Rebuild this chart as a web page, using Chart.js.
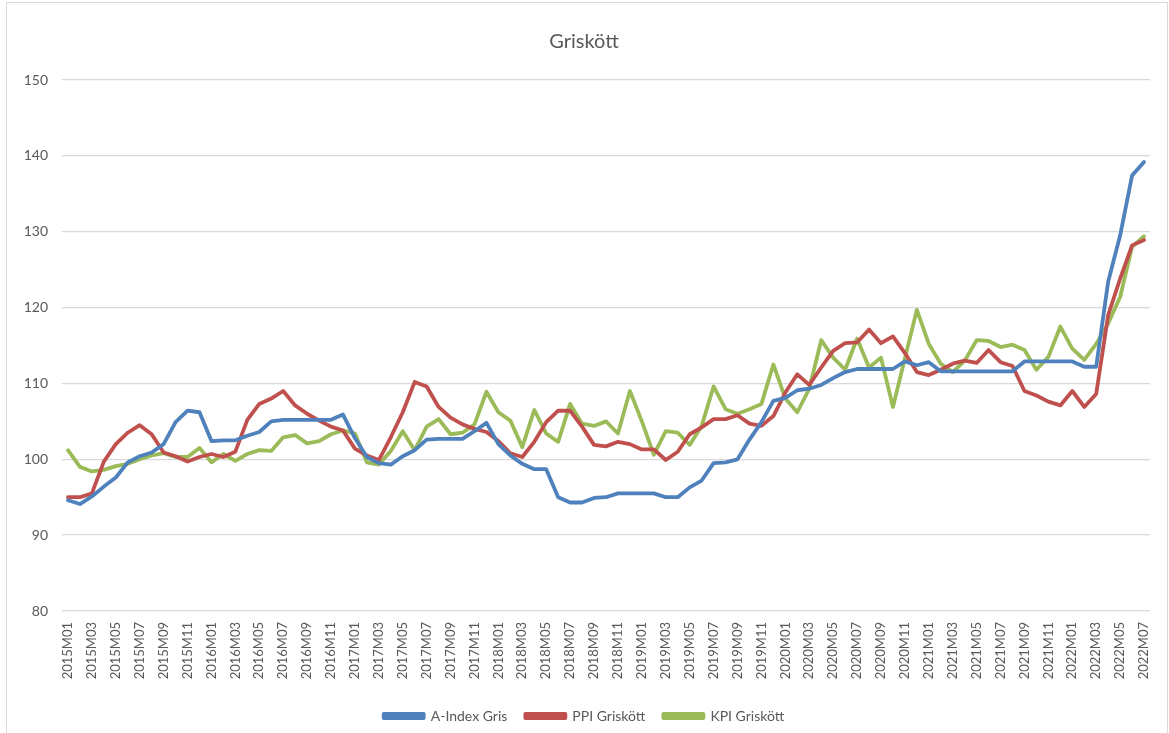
<!DOCTYPE html>
<html>
<head>
<meta charset="utf-8">
<script src="https://cdn.jsdelivr.net/npm/chart.js@4"></script>
<style>
  html, body { margin: 0; padding: 0; background: #fff; }
  #wrap { position: relative; width: 1169px; height: 733px; }
  #frame { position: absolute; left: 6px; top: 2px; width: 1160px; height: 740px; border: 1px solid #d9d9d9; }
</style>
</head>
<body>
<div id="wrap">
  <div id="frame"></div>
  <canvas id="c" width="1169" height="733"></canvas>
</div>
<script>
/* ── data ── */
const years = [2015, 2016, 2017, 2018, 2019, 2020, 2021, 2022];
const months = [];
years.forEach(y => {
  for (let m = 1; m <= 12; m++) {
    if (y === 2022 && m > 7) break;
    months.push(y + 'M' + String(m).padStart(2, '0'));
  }
});

const aIndexGris = [
  94.6, 94.1, 95.1, 96.4, 97.6, 99.6, 100.4, 100.9, 102.0, 104.9, 106.4, 106.2,
  102.4, 102.5, 102.5, 103.1, 103.6, 105.0, 105.2, 105.2, 105.2, 105.2, 105.2, 105.9,
  102.8, 100.3, 99.5, 99.3, 100.4, 101.2, 102.6, 102.7, 102.7, 102.7, 103.7, 104.8,
  102.0, 100.5, 99.4, 98.7, 98.7, 95.0, 94.3, 94.3, 94.9, 95.0, 95.5, 95.5,
  95.5, 95.5, 95.0, 95.0, 96.3, 97.2, 99.5, 99.6, 100.0, 102.6, 104.9, 107.7,
  108.1, 109.1, 109.3, 109.8, 110.7, 111.5, 111.9, 111.9, 111.9, 111.9, 112.9, 112.4,
  112.8, 111.6, 111.6, 111.6, 111.6, 111.6, 111.6, 111.6, 112.9, 112.9, 112.9, 112.9,
  112.9, 112.2, 112.2, 123.4, 129.5, 137.4, 139.2
];

const ppiGriskott = [
  95.0, 95.0, 95.5, 99.7, 102.0, 103.5, 104.5, 103.3, 100.9, 100.4, 99.7, 100.3,
  100.7, 100.3, 101.0, 105.2, 107.3, 108.0, 109.0, 107.1, 106.0, 105.1, 104.3, 103.8,
  101.4, 100.5, 99.9, 102.9, 106.2, 110.2, 109.6, 106.9, 105.5, 104.6, 104.0, 103.6,
  102.4, 100.8, 100.3, 102.3, 104.9, 106.4, 106.4, 104.3, 101.9, 101.7, 102.3, 102.0,
  101.3, 101.3, 99.9, 101.0, 103.3, 104.2, 105.3, 105.3, 105.8, 104.7, 104.4, 105.7,
  108.8, 111.2, 109.8, 112.1, 114.3, 115.3, 115.4, 117.1, 115.3, 116.2, 114.0, 111.5,
  111.1, 111.8, 112.6, 113.0, 112.7, 114.4, 112.8, 112.3, 109.0, 108.4, 107.6, 107.1,
  109.0, 106.9, 108.6, 119.0, 123.8, 128.2, 128.9
];

const kpiGriskott = [
  101.2, 99.0, 98.4, 98.6, 99.1, 99.4, 100.0, 100.5, 100.8, 100.3, 100.3, 101.5,
  99.6, 100.7, 99.8, 100.7, 101.2, 101.1, 102.9, 103.2, 102.1, 102.4, 103.3, 103.8,
  103.4, 99.6, 99.3, 101.1, 103.7, 101.2, 104.3, 105.3, 103.3, 103.5, 104.6, 108.9,
  106.2, 105.1, 101.6, 106.5, 103.4, 102.3, 107.3, 104.7, 104.4, 105.0, 103.4, 109.0,
  105.0, 100.6, 103.7, 103.5, 101.9, 104.4, 109.6, 106.6, 106.0, 106.6, 107.3, 112.5,
  108.0, 106.2, 109.3, 115.7, 113.4, 111.8, 115.9, 112.1, 113.4, 106.9, 113.3, 119.7,
  115.2, 112.6, 111.5, 113.0, 115.7, 115.6, 114.8, 115.1, 114.4, 111.8, 113.5, 117.5,
  114.6, 113.1, 115.2, 117.9, 121.4, 128.0, 129.4
];

const yTicks = [80, 90, 100, 110, 120, 130, 140, 150];

const FONT = 'Lato, "Liberation Sans", sans-serif';
const TXT = '#595959';

function line(label, data, color) {
  return {
    label, data,
    borderColor: color,
    backgroundColor: color,
    borderWidth: 3.8,
    pointRadius: 0,
    tension: 0,
    borderCapStyle: 'round',
    borderJoinStyle: 'round'
  };
}

new Chart(document.getElementById('c'), {
  type: 'line',
  data: {
    labels: months,
    datasets: [
      line('A-Index Gris', aIndexGris, '#4F81BD'),
      line('PPI Griskött', ppiGriskott, '#C0504D'),
      line('KPI Griskött', kpiGriskott, '#9BBB59')
    ]
  },
  options: {
    responsive: false,
    animation: false,
    layout: { padding: { left: 18, right: 19, top: 0, bottom: 0 } },
    plugins: {
      title: {
        display: true,
        text: 'Griskött',
        color: TXT,
        font: { family: FONT, size: 20, weight: 'normal' },
        padding: { top: 30, bottom: 26 }
      },
      legend: {
        position: 'bottom',
        labels: {
          color: TXT,
          font: { family: FONT, size: 14 },
          boxWidth: 40,
          boxHeight: 4,
          padding: 18
        }
      },
      tooltip: { enabled: false }
    },
    scales: {
      x: {
        offset: true,
        grid: { display: false },
        border: { display: false },
        ticks: {
          autoSkip: false,
          maxRotation: 90,
          minRotation: 90,
          color: TXT,
          font: { family: FONT, size: 13 },
          callback: (v, i) => i % 2 === 0 ? months[i] : ''
        },
        afterFit: s => { s.height = 80; }
      },
      y: {
        min: 80, max: 150,
        afterBuildTicks: s => { s.ticks = yTicks.map(v => ({ value: v })); },
        grid: { color: '#d9d9d9', lineWidth: 1.3, drawTicks: false },
        border: { display: false },
        ticks: {
          color: TXT,
          padding: 14,
          font: { family: FONT, size: 14 }
        },
        afterFit: s => { s.width = 44; }
      }
    }
  }
});
</script>
</body>
</html>
